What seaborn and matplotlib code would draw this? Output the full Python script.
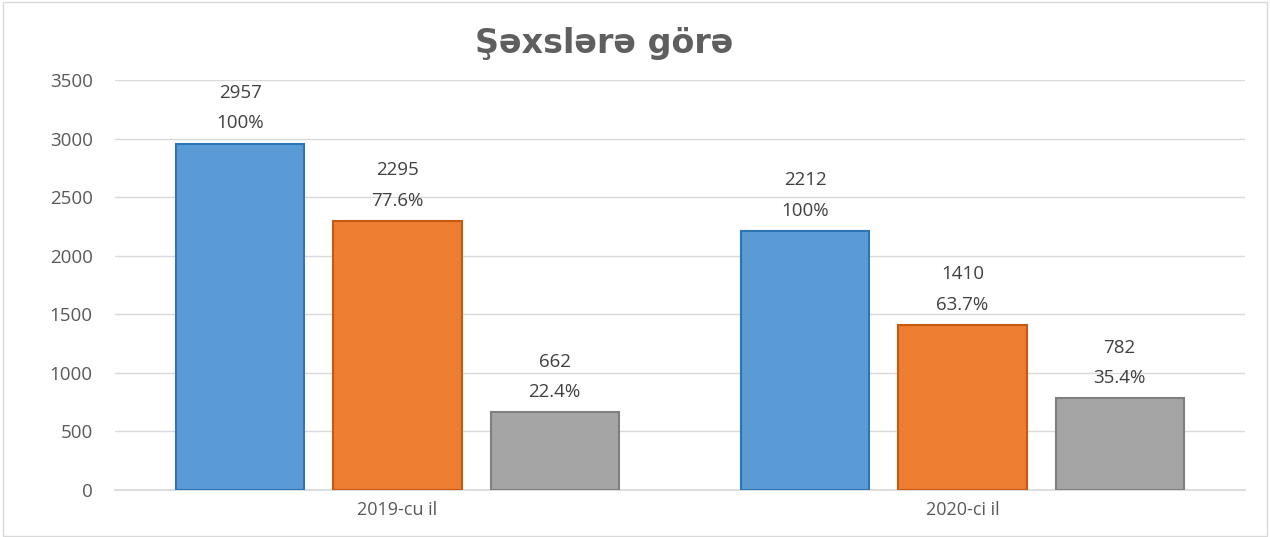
import matplotlib
matplotlib.use("Agg")
import matplotlib.pyplot as plt
import seaborn as sns
import pandas as pd
from matplotlib.patches import Rectangle

categories = ["2019-cu il", "2020-ci il"]
series_names = ["Ümumi", "Seriya 2", "Seriya 3"]
values_total = [2957, 2212]
values_second = [2295, 1410]
values_third = [662, 782]
percent_total = ["100%", "100%"]
percent_second = ["77.6%", "63.7%"]
percent_third = ["22.4%", "35.4%"]
title_text = "Şəxslərə görə"
yticks = [0, 500, 1000, 1500, 2000, 2500, 3000, 3500]

rows = []
for i, c in enumerate(categories):
    rows.append((c, series_names[0], values_total[i], percent_total[i]))
    rows.append((c, series_names[1], values_second[i], percent_second[i]))
    rows.append((c, series_names[2], values_third[i], percent_third[i]))
df = pd.DataFrame(rows, columns=["cat", "series", "value", "pct"])

sns.set_theme(style="white")
plt.rcParams['font.family'] = ['Open Sans', 'DejaVu Sans']

fig = plt.figure(figsize=(12.7, 5.37), dpi=100)
ax = fig.add_axes([115/1270, 1-490/537, 1130/1270, 410/537])

palette = ["#5B9BD5", "#ED7D31", "#A5A5A5"]
edges = ["#2E75B6", "#C55A11", "#7F7F7F"]
sns.barplot(data=df, x="cat", y="value", hue="series", order=categories,
            hue_order=series_names, palette=palette, width=0.834, gap=0.185,
            ax=ax, legend=False, saturation=1, zorder=3)

for cont, ec, pcts in zip(ax.containers, edges,
                          [percent_total, percent_second, percent_third]):
    for bar, p in zip(cont, pcts):
        bar.set_edgecolor(ec)
        bar.set_linewidth(1.5)
        h = bar.get_height()
        x = bar.get_x() + bar.get_width() / 2
        ax.annotate(f"{int(h)}\n{p}", (x, h), xytext=(0, 8),
                    textcoords="offset points", ha="center", va="bottom",
                    fontsize=13.5, color="#404040", linespacing=1.9)

ax.set_ylim(0, 3500)
ax.set_yticks(yticks)
ax.set_yticklabels([str(t) for t in yticks], fontsize=13.5, color="#595959")
ax.tick_params(axis="x", labelsize=13, colors="#595959", length=0, pad=8)
ax.tick_params(axis="y", length=0, pad=16)
ax.grid(axis="y", color="#D9D9D9", linewidth=1, zorder=0)
ax.set_axisbelow(True)
for s in ["top", "right", "left"]:
    ax.spines[s].set_visible(False)
ax.spines["bottom"].set_color("#D9D9D9")
ax.set_xlabel("")
ax.set_ylabel("")

fig.text(0.476, 1-44/537, title_text, ha="center", va="center", fontsize=24,
         fontweight="bold", color="#5F5F5F", family=["DejaVu Sans"])

fig.patches.append(Rectangle((0.002, 0.002), 0.996, 0.994, transform=fig.transFigure,
                             fill=False, edgecolor="#D9D9D9", linewidth=1))

fig.savefig("out.png", dpi=100)
